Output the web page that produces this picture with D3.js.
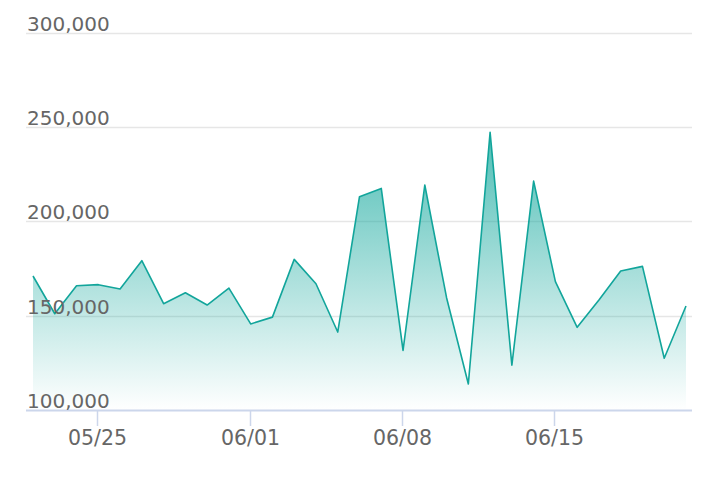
<!DOCTYPE html>
<html>
<head>
<meta charset="utf-8">
<script src="https://cdn.jsdelivr.net/npm/d3@7"></script>
<style>
  body { margin: 0; background: #fff; }
  svg { display: block; font-family: "DejaVu Sans", Verdana, sans-serif; }
</style>
</head>
<body>
<svg id="chart" width="716" height="482"></svg>
<script>
const startDate = "2020-05-22";
const values = [
  171000, 151000, 165800, 166400, 164100, 179100, 156300, 162100, 155600, 164600,
  145600, 149200, 179800, 166900, 141300, 213000, 217400, 131600, 219200, 159500,
  113800, 247100, 123800, 221300, 168000, 143800, 158300, 173600, 176100, 127400,
  155100
];
const yTicks = [100000, 150000, 200000, 250000, 300000];

const parse = d3.timeParse("%Y-%m-%d");
const day0 = parse(startDate);
const data = values.map((v, i) => ({ date: d3.timeDay.offset(day0, i), value: v }));

const svg = d3.select("#chart");
const left = 26, right = 692;

const x = d3.scaleTime()
  .domain(d3.extent(data, d => d.date))
  .range([33, 686]);

const y = d3.scaleLinear()
  .domain([100000, 300000])
  .range([410, 32.5]);

// gradient
const defs = svg.append("defs");
const grad = defs.append("linearGradient")
  .attr("id", "fillGrad")
  .attr("gradientUnits", "userSpaceOnUse")
  .attr("x1", 0).attr("x2", 0)
  .attr("y1", y(d3.max(values))).attr("y2", y(100000));
grad.append("stop").attr("offset", 0).attr("stop-color", "#14a89d").attr("stop-opacity", 0.75);
grad.append("stop").attr("offset", 1).attr("stop-color", "#14a89d").attr("stop-opacity", 0.0);

// grid lines
svg.append("g")
  .selectAll("line")
  .data(yTicks.slice(1))
  .enter()
  .append("line")
  .attr("x1", left).attr("x2", right)
  .attr("y1", d => Math.round(y(d)) + 0.5)
  .attr("y2", d => Math.round(y(d)) + 0.5)
  .attr("stroke", "#e6e6e6")
  .attr("stroke-width", 1.5);

// area + line
const area = d3.area()
  .x(d => x(d.date))
  .y0(y(100000))
  .y1(d => y(d.value));

const line = d3.line()
  .x(d => x(d.date))
  .y(d => y(d.value));

svg.append("path")
  .datum(data)
  .attr("d", area)
  .attr("fill", "url(#fillGrad)");

svg.append("path")
  .datum(data)
  .attr("d", line)
  .attr("fill", "none")
  .attr("stroke", "#12a59b")
  .attr("stroke-width", 1.6)
  .attr("stroke-linejoin", "round");

// x axis
const xAxis = svg.append("g").attr("transform", "translate(0,410)");
xAxis.append("line")
  .attr("x1", left).attr("x2", right)
  .attr("y1", 0.5).attr("y2", 0.5)
  .attr("stroke", "#ccd6eb")
  .attr("stroke-width", 2);

const xTicks = x.ticks(d3.timeMonday.every(1));
const tk = xAxis.selectAll(".tick")
  .data(xTicks)
  .enter()
  .append("g")
  .attr("transform", d => `translate(${Math.round(x(d)) - 0.5},0)`);
tk.append("line")
  .attr("y1", 0).attr("y2", 16)
  .attr("stroke", "#ccd6eb")
  .attr("stroke-width", 1.5);
tk.append("text")
  .attr("y", 35)
  .attr("text-anchor", "middle")
  .attr("fill", "#666666")
  .style("font-size", "20.5px")
  .text(d => d3.timeFormat("%m/%d")(d));

// y labels
svg.append("g")
  .selectAll("text")
  .data(yTicks)
  .enter()
  .append("text")
  .attr("x", 27)
  .attr("y", d => y(d) - 2)
  .attr("fill", "#666666")
  .style("font-size", "20px")
  .text(d => d3.format(",")(d));
</script>
</body>
</html>
